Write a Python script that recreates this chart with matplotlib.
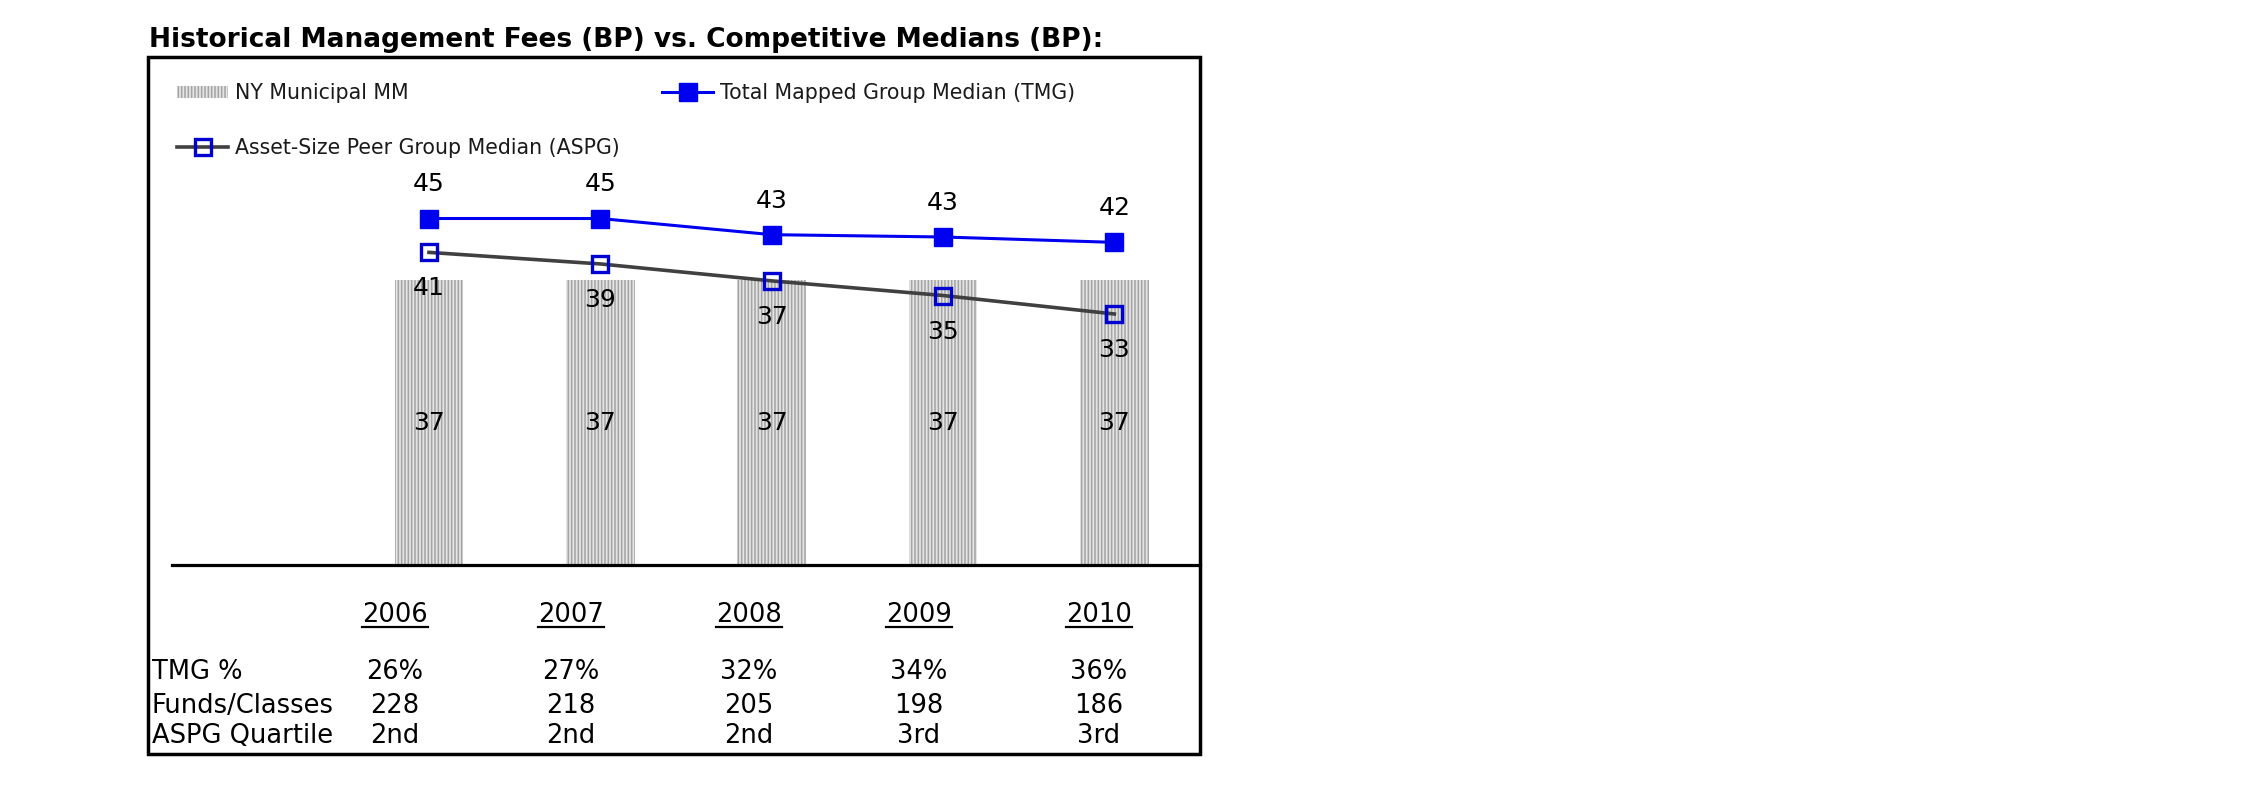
import matplotlib
matplotlib.use("Agg")
import matplotlib.pyplot as plt
from matplotlib.patches import Rectangle, Patch
from matplotlib.lines import Line2D

W, H = 2250, 796  # output size in pixels

years = ["2006", "2007", "2008", "2009", "2010"]
ny_municipal = [37, 37, 37, 37, 37]
tmg_median = [45.0, 45.0, 42.9, 42.6, 41.9]
aspg_median = [40.6, 39.1, 36.9, 35.0, 32.6]

row_labels = ["TMG %", "Funds/Classes", "ASPG Quartile"]
tmg_pct = ["26%", "27%", "32%", "34%", "36%"]
funds_classes = ["228", "218", "205", "198", "186"]
aspg_quartile = ["2nd", "2nd", "2nd", "3rd", "3rd"]

TITLE = "Historical Management Fees (BP) vs. Competitive Medians (BP):"
BLUE = "#0000f0"
GREY_LINE = "#404040"
BAR_FACE = "#e4e4e4"
BAR_HATCH = "#a4a4a4"


def fx(px):
    return px / W


def fy(py):
    return 1 - py / H


plt.rcParams["font.family"] = "DejaVu Sans"
plt.rcParams["hatch.linewidth"] = 1.1

fig = plt.figure(figsize=(W / 100, H / 100), dpi=100)

# chart area
ax = fig.add_axes([fx(172), fy(565), fx(1200) - fx(172), fy(200) - fy(565)])
x = list(range(len(years)))

bars = ax.bar(x, ny_municipal, width=0.4, facecolor=BAR_FACE,
              edgecolor=BAR_HATCH, hatch="|||||", linewidth=0, zorder=1)
ax.bar_label(bars, labels=[str(v) for v in ny_municipal], label_type="center",
             fontsize=18)

ax.plot(x, aspg_median, color=GREY_LINE, lw=2.6, marker="s", ms=12,
        mfc="none", mec="#0000d0", mew=2.4, zorder=3)
ax.plot(x, tmg_median, color=BLUE, lw=2.2, marker="s", ms=13,
        mfc=BLUE, mec=BLUE, zorder=4)

for xi, v in zip(x, tmg_median):
    ax.annotate(f"{round(v)}", (xi, v), xytext=(0, 24.5), textcoords="offset points",
                ha="center", va="center", fontsize=18)
for xi, v in zip(x, aspg_median):
    ax.annotate(f"{round(v)}", (xi, v), xytext=(0, -26), textcoords="offset points",
                ha="center", va="center", fontsize=18, zorder=5)

ax.set_xlim(-1.5, 4.5)
ax.set_ylim(0, 365 / 7.7)
for side in ["left", "right", "top"]:
    ax.spines[side].set_visible(False)
ax.spines["bottom"].set_linewidth(2.3)
ax.set_xticks([])
ax.set_yticks([])
ax.patch.set_alpha(0)

# legend entries
leg_kw = dict(frameon=False, fontsize=14.8, borderpad=0, borderaxespad=0,
              handlelength=2.5, handletextpad=0.3, handleheight=0.5,
              loc="center left", labelcolor="#1a1a1a")
fig.legend([Patch(facecolor=BAR_FACE, edgecolor=BAR_HATCH, hatch="|||||", linewidth=0)],
           ["NY Municipal MM"], bbox_to_anchor=(fx(177), fy(93)), **leg_kw)
fig.legend([Line2D([], [], color=BLUE, lw=2.2, marker="s", ms=13)],
           ["Total Mapped Group Median (TMG)"], bbox_to_anchor=(fx(662), fy(93)), **leg_kw)
fig.legend([Line2D([], [], color=GREY_LINE, lw=2.6, marker="s", ms=12, mfc="none",
                   mec="#0000d0", mew=2.4)],
           ["Asset-Size Peer Group Median (ASPG)"], bbox_to_anchor=(fx(177), fy(148)), **leg_kw)

# title and frame
fig.text(fx(149), fy(47), TITLE, fontsize=19, fontweight="bold", ha="left", va="baseline")
fig.add_artist(Rectangle((fx(148), fy(754)), fx(1200) - fx(148), fy(57) - fy(754),
                         transform=fig.transFigure, fill=False, edgecolor="black", lw=2.5))

# table below the chart
col_x = [395, 571, 749, 919, 1099]
row_y = [679, 713, 743]
TABLE_FS = 18.5
year_texts = [fig.text(fx(cx), fy(622), yr, fontsize=TABLE_FS, ha="center", va="baseline")
              for cx, yr in zip(col_x, years)]
for ry, lab, vals in zip(row_y, row_labels, [tmg_pct, funds_classes, aspg_quartile]):
    fig.text(fx(152), fy(ry), lab, fontsize=TABLE_FS, ha="left", va="baseline")
    for cx, v in zip(col_x, vals):
        fig.text(fx(cx), fy(ry), v, fontsize=TABLE_FS, ha="center", va="baseline")

# underline the years
fig.canvas.draw()
renderer = fig.canvas.get_renderer()
for t in year_texts:
    bb = t.get_window_extent(renderer)
    fig.add_artist(Line2D([bb.x0 / W, bb.x1 / W], [fy(627), fy(627)],
                          transform=fig.transFigure, color="black", lw=1.6))

fig.savefig("out.png", dpi=100)
